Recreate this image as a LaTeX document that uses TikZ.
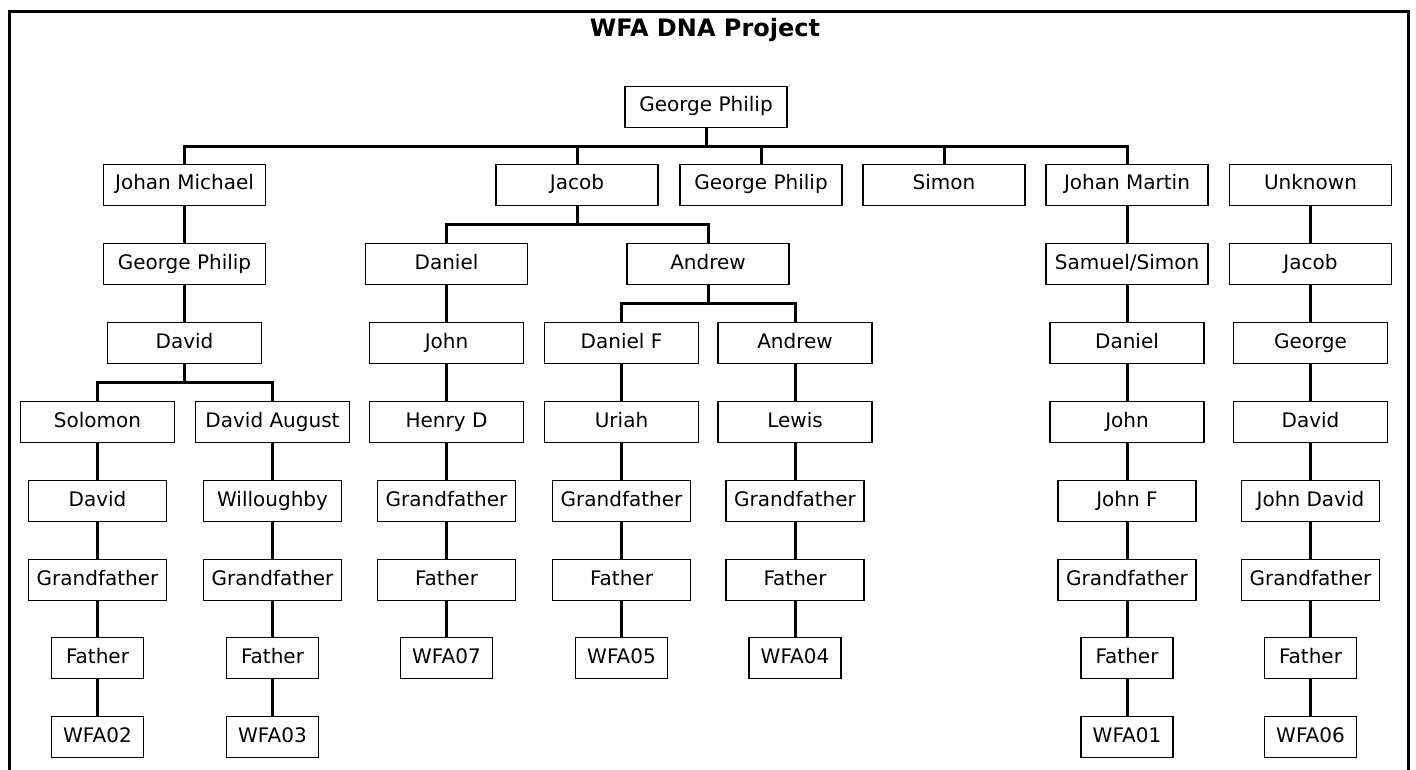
\documentclass[tikz,border=0pt]{standalone}
\usepackage{fontspec}
\setmainfont{DejaVu Sans}
\usepackage{tikz}

\tikzset{
  person/.style={draw, line width=1.1pt, inner sep=0pt, minimum height=30.75pt,
    text height=11pt, text depth=3.5pt, font=\fontsize{15}{18}\selectfont},
  wide/.style={person, minimum width=121.5pt},
  mid/.style={person, minimum width=115.5pt},
  small/.style={person, minimum width=103.5pt},
  tiny/.style={person, minimum width=69pt},
  link/.style={line width=2.25pt},
  frame/.style={line width=2.25pt}
}

\begin{document}
\begin{tikzpicture}[x=0.75pt, y=-0.75pt]
			%%%%% START %%%%%
			\useasboundingbox (0,0) rectangle (1416,770);
			
			\draw[frame] (9,770) -- (9,12) -- (1408,12) -- (1408,770);
			\node[font=\bfseries\fontsize{18}{22}\selectfont] (title) at (705,30) {WFA DNA Project};
			
			\node[wide] (root) at (706,107) {George Philip};
			
			% first generation
			\node[wide] (jm) at (184.5,185) {Johan Michael};
			\node[wide] (jac) at (577,185) {Jacob};
			\node[wide] (gp) at (761,185) {George Philip};
			\node[wide] (sim) at (944,185) {Simon};
			\node[wide] (jmart) at (1127,185) {Johan Martin};
			\node[wide] (unk) at (1310.5,185) {Unknown};
			
			\node[wide] (gp2) at (184.5,264) {George Philip};
			\node[wide] (dan) at (446.5,264) {Daniel};
			\node[wide] (and) at (708,264) {Andrew};
			\node[wide] (sam) at (1127,264) {Samuel/Simon};
			\node[wide] (jac2) at (1310.5,264) {Jacob};
			
			\node[mid] (dav) at (184.5,343) {David};
			\node[mid] (john) at (446.5,343) {John};
			\node[mid] (danf) at (621.5,343) {Daniel F};
			\node[mid] (and2) at (795,343) {Andrew};
			\node[mid] (dan2) at (1127,343) {Daniel};
			\node[mid] (geo) at (1310.5,343) {George};
			
			\node[mid] (sol) at (97.5,422) {Solomon};
			\node[mid] (dava) at (272.5,422) {David August};
			\node[mid] (hen) at (446.5,422) {Henry D};
			\node[mid] (uri) at (621.5,422) {Uriah};
			\node[mid] (lew) at (795,422) {Lewis};
			\node[mid] (john2) at (1127,422) {John};
			\node[mid] (dav3) at (1310.5,422) {David};
			
			\node[small] (dav2) at (97.5,501) {David};
			\node[small] (wil) at (272.5,501) {Willoughby};
			\node[small] (gfa) at (446.5,501) {Grandfather};
			\node[small] (gfb) at (621.5,501) {Grandfather};
			\node[small] (gfc) at (795,501) {Grandfather};
			\node[small] (johnf) at (1127,501) {John F};
			\node[small] (jd) at (1310.5,501) {John David};
			
			\node[small] (gfd) at (97.5,580) {Grandfather};
			\node[small] (gfe) at (272.5,580) {Grandfather};
			\node[small] (faa) at (446.5,580) {Father};
			\node[small] (fab) at (621.5,580) {Father};
			\node[small] (fac) at (795,580) {Father};
			\node[small] (gff) at (1127,580) {Grandfather};
			\node[small] (gfg) at (1310.5,580) {Grandfather};
			
			\node[tiny] (fad) at (97.5,658) {Father};
			\node[tiny] (fae) at (272.5,658) {Father};
			\node[tiny] (w07) at (446.5,658) {WFA07};
			\node[tiny] (w05) at (621.5,658) {WFA05};
			\node[tiny] (w04) at (795,658) {WFA04};
			\node[tiny] (faf) at (1127,658) {Father};
			\node[tiny] (fag) at (1310.5,658) {Father};
			
			\node[tiny] (w02) at (97.5,737) {WFA02};
			\node[tiny] (w03) at (272.5,737) {WFA03};
			\node[tiny] (w01) at (1127,737) {WFA01};
			\node[tiny] (w06) at (1310.5,737) {WFA06};
			
			% lines of descent
			\foreach \a/\b in {root/jm, root/jac, root/gp, root/sim, root/jmart,
			    jm/gp2, gp2/dav, dav/sol, dav/dava, sol/dav2, dav2/gfd, gfd/fad, fad/w02,
			    dava/wil, wil/gfe, gfe/fae, fae/w03,
			    jac/dan, jac/and, dan/john, john/hen, hen/gfa, gfa/faa, faa/w07,
			    and/danf, and/and2, danf/uri, uri/gfb, gfb/fab, fab/w05,
			    and2/lew, lew/gfc, gfc/fac, fac/w04,
			    jmart/sam, sam/dan2, dan2/john2, john2/johnf, johnf/gff, gff/faf, faf/w01,
			    unk/jac2, jac2/geo, geo/dav3, dav3/jd, jd/gfg, gfg/fag, fag/w06}
			  \draw[link] (\a.south) -- ++(0,18.5) -| (\b.north);
			
			%%%%% END %%%%%
\end{tikzpicture}
\end{document}
